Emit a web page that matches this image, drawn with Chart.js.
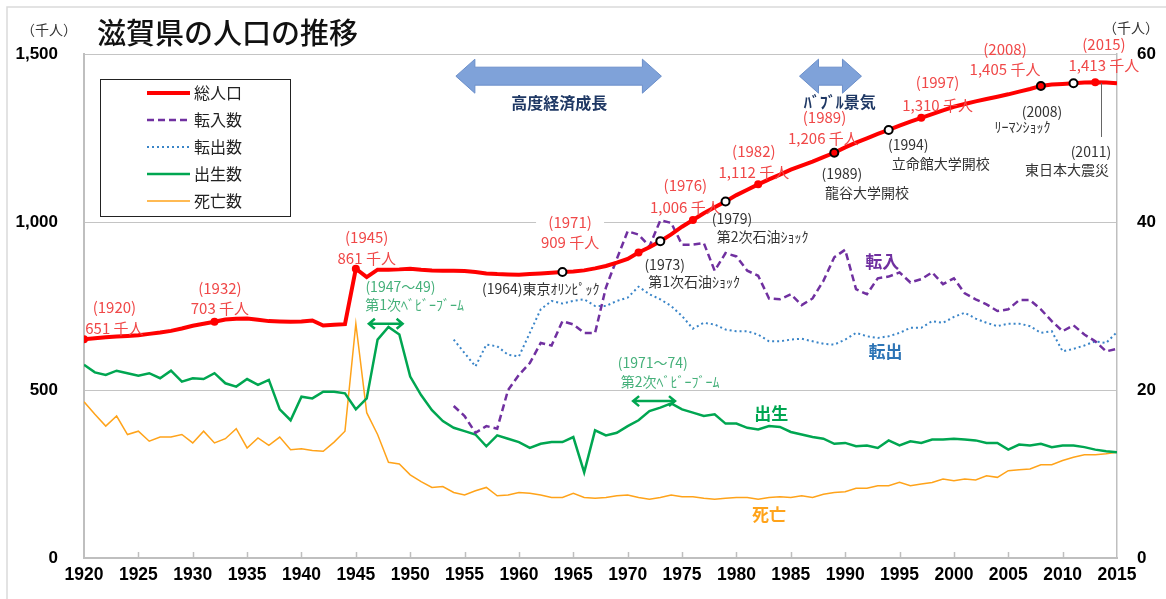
<!DOCTYPE html>
<html lang="ja">
<head>
<meta charset="utf-8">
<title>滋賀県の人口の推移</title>
<script src="https://cdn.jsdelivr.net/npm/chart.js@4.4.1/dist/chart.umd.min.js"></script>
<style>
  html, body { margin: 0; padding: 0; background: #fff; }
  #wrap { position: relative; width: 1166px; height: 599px; }
</style>
</head>
<body>
<div id="wrap"><canvas id="popChart" width="1166" height="599"></canvas></div>
<script>
// years on the x axis
const years = Array.from({ length: 96 }, (_, i) => 1920 + i);

// total population (thousand people, left axis)
const population = [
  651, 654, 657, 659, 661, 663, 667, 671, 676, 683,
  691, 697, 703, 710, 712, 713, 709, 705, 704, 703,
  704, 707, 692, 694, 696, 861, 836, 858, 858, 859,
  861, 858, 856, 855, 855, 854, 851, 847, 845, 844,
  843, 845, 847, 849, 851, 853, 856, 862, 869, 879,
  890, 909, 925, 943, 963, 986, 1006, 1026, 1044, 1061,
  1080, 1096, 1112, 1127, 1141, 1156, 1168, 1180, 1193, 1206,
  1222, 1236, 1249, 1262, 1274, 1287, 1299, 1310, 1321, 1332,
  1343, 1351, 1359, 1366, 1373, 1380, 1388, 1396, 1405, 1409,
  1411, 1413, 1415, 1416, 1415, 1413
];

// migration in / out (thousand people, right axis), recorded from 1954
const moveIn = [
  null, null, null, null, null, null, null, null, null, null,
  null, null, null, null, null, null, null, null, null, null,
  null, null, null, null, null, null, null, null, null, null,
  null, null, null, null, 18.1, 16.9, 14.9, 15.7, 15.4, 20.0,
  21.8, 23.2, 25.6, 25.3, 28.2, 27.8, 26.8, 26.8, 32.2, 35.6,
  38.9, 38.5, 37.1, 40.2, 39.9, 37.3, 37.3, 37.5, 34.2, 36.3,
  35.9, 34.2, 33.6, 30.9, 30.8, 31.4, 30.1, 30.9, 33.0, 35.8,
  36.7, 32.0, 31.4, 33.3, 33.5, 34.0, 32.8, 33.2, 34.0, 32.6,
  33.3, 31.5, 30.8, 30.2, 29.4, 29.6, 30.7, 30.7, 29.6, 28.2,
  27.0, 27.7, 26.6, 25.8, 24.6, 24.9
];
const moveOut = [
  null, null, null, null, null, null, null, null, null, null,
  null, null, null, null, null, null, null, null, null, null,
  null, null, null, null, null, null, null, null, null, null,
  null, null, null, null, 26.0, 24.4, 22.8, 25.4, 25.2, 24.2,
  24.0, 26.8, 29.6, 30.6, 30.3, 30.6, 30.8, 30.0, 30.0, 30.6,
  31.0, 32.3, 31.4, 30.8, 30.0, 28.8, 27.3, 28.0, 27.8, 27.2,
  27.0, 27.0, 26.6, 25.8, 25.8, 26.0, 26.1, 25.8, 25.5, 25.4,
  26.0, 26.8, 26.4, 26.2, 26.4, 26.8, 27.4, 27.4, 28.2, 28.0,
  28.7, 29.2, 28.5, 28.0, 27.6, 27.9, 27.9, 27.6, 26.8, 27.0,
  24.6, 24.9, 25.3, 25.8, 25.6, 26.9
];

// births / deaths (thousand people, right axis)
const births = [
  23.0, 22.1, 21.8, 22.3, 22.0, 21.7, 22.0, 21.4, 22.3, 21.0,
  21.4, 21.3, 22.0, 20.8, 20.4, 21.3, 20.6, 21.2, 17.7, 16.4,
  19.2, 19.0, 19.8, 19.8, 19.6, 17.7, 19.0, 26.0, 27.5, 26.6,
  21.6, 19.4, 17.6, 16.3, 15.5, 15.1, 14.7, 13.3, 14.6, 14.2,
  13.8, 13.1, 13.6, 13.8, 13.8, 14.4, 10.2, 15.2, 14.6, 14.9,
  15.7, 16.4, 17.5, 17.9, 18.4, 17.7, 17.3, 16.9, 17.1, 16.0,
  16.0, 15.5, 15.3, 15.7, 15.6, 15.0, 14.7, 14.4, 14.2, 13.6,
  13.7, 13.3, 13.4, 13.1, 14.0, 13.4, 13.9, 13.7, 14.1, 14.1,
  14.2, 14.1, 14.0, 13.7, 13.7, 12.9, 13.5, 13.4, 13.6, 13.2,
  13.4, 13.4, 13.2, 12.9, 12.7, 12.6
];
const deaths = [
  18.6, 17.1, 15.7, 16.9, 14.7, 15.1, 13.9, 14.4, 14.4, 14.7,
  13.7, 15.1, 13.7, 14.2, 15.4, 13.1, 14.3, 13.4, 14.4, 12.9,
  13.0, 12.8, 12.7, 13.8, 15.1, 27.9, 17.3, 14.7, 11.4, 11.2,
  9.9, 9.1, 8.4, 8.5, 7.8, 7.5, 8.0, 8.4, 7.4, 7.5,
  7.8, 7.7, 7.5, 7.2, 7.2, 7.7, 7.2, 7.1, 7.2, 7.4,
  7.5, 7.2, 7.0, 7.2, 7.5, 7.3, 7.3, 7.1, 7.0, 7.1,
  7.2, 7.2, 7.0, 7.2, 7.3, 7.2, 7.4, 7.2, 7.6, 7.8,
  7.9, 8.3, 8.3, 8.6, 8.6, 9.0, 8.6, 8.8, 9.0, 9.4,
  9.2, 9.4, 9.3, 9.8, 9.6, 10.4, 10.5, 10.6, 11.1, 11.1,
  11.6, 12.0, 12.3, 12.3, 12.4, 12.6
];

// marked points on the population line
const redDotYears = [1920, 1932, 1945, 1971, 1976, 1982, 1997, 2013];
const ringYears = [1964, 1973, 1979, 1994, 2011];
const ringRedYears = [1989, 2008];

// text notes: [year, value on left axis, text]
const redNotes = [
  [1922.8, 747, '(1920)'], [1922.8, 685, '651 千人'],
  [1932.5, 804, '(1932)'], [1932.5, 744, '703 千人'],
  [1946.0, 955, '(1945)'], [1946.0, 893, '861 千人'],
  [1964.7, 998, '(1971)'], [1964.7, 940, '909 千人'],
  [1975.3, 1110, '(1976)'], [1975.3, 1045, '1,006 千人'],
  [1981.6, 1209, '(1982)'], [1981.6, 1148, '1,112 千人'],
  [1988.1, 1312, '(1989)'], [1988.0, 1250, '1,206 千人'],
  [1998.5, 1415, '(1997)'], [1998.5, 1348, '1,310 千人'],
  [2004.7, 1514, '(2008)'], [2004.7, 1454, '1,405 千人'],
  [2013.8, 1529, '(2015)'], [2013.8, 1465, '1,413 千人']
];
const eventNotes = [
  [1962.0, 803, '(1964)東京ｵﾘﾝﾋﾟｯｸ'],
  [1973.4, 872, '(1973)'], [1976.1, 822, '第1次石油ｼｮｯｸ'],
  [1979.6, 1009, '(1979)'], [1982.4, 956, '第2次石油ｼｮｯｸ'],
  [1989.7, 1143, '(1989)'], [1992.0, 1087, '龍谷大学開校'],
  [1995.8, 1231, '(1994)'], [1998.8, 1175, '立命館大学開校'],
  [2008.1, 1327, '(2008)'], [2006.3, 1283, 'ﾘｰﾏﾝｼｮｯｸ'],
  [2012.6, 1208, '(2011)'], [2010.4, 1155, '東日本大震災']
];
const boomNotes = [
  [1949.1, 806, '(1947～49)'], [1950.4, 753, '第1次ﾍﾞﾋﾞｰﾌﾞｰﾑ'],
  [1972.3, 581, '(1971～74)'], [1973.9, 525, '第2次ﾍﾞﾋﾞｰﾌﾞｰﾑ']
];
const boomArrows = [[1946.2, 1949.3, 697], [1970.5, 1974.35, 467]];
const eraArrows = [[1954.2, 1973.1, 1434, '高度経済成長', 1963.7, 1355], [1985.8, 1991.5, 1434, 'ﾊﾞﾌﾞﾙ景気', 1989.5, 1358]];
const seriesNotes = [
  [1993.4, 882, '転入', '#7030a0'],
  [1993.7, 614, '転出', '#2e75b6'],
  [1983.2, 431, '出生', '#00a651'],
  [1983.0, 128, '死亡', '#ffa31a']
];

const JP = '"Noto Sans CJK JP", "Noto Sans", sans-serif';
const NUM = '"Liberation Sans", Arial, sans-serif';

function pts(vals) {
  return years.map((yr, i) => ({ x: yr, y: vals[i] }));
}

function blockArrow(c, x1, x2, yc) {
  const hl = 19, hh = 17, bh = 9;
  c.beginPath();
  c.moveTo(x1, yc);
  c.lineTo(x1 + hl, yc - hh);
  c.lineTo(x1 + hl, yc - bh);
  c.lineTo(x2 - hl, yc - bh);
  c.lineTo(x2 - hl, yc - hh);
  c.lineTo(x2, yc);
  c.lineTo(x2 - hl, yc + hh);
  c.lineTo(x2 - hl, yc + bh);
  c.lineTo(x1 + hl, yc + bh);
  c.lineTo(x1 + hl, yc + hh);
  c.closePath();
  c.fillStyle = '#7fa2d9';
  c.fill();
  c.strokeStyle = '#6b8fca';
  c.lineWidth = 1;
  c.stroke();
}

function doubleArrow(c, x1, x2, y) {
  c.strokeStyle = '#00a651';
  c.lineWidth = 2.5;
  c.beginPath();
  c.moveTo(x1, y); c.lineTo(x2, y);
  c.moveTo(x1 + 6, y - 5); c.lineTo(x1, y); c.lineTo(x1 + 6, y + 5);
  c.moveTo(x2 - 6, y - 5); c.lineTo(x2, y); c.lineTo(x2 - 6, y + 5);
  c.stroke();
}

const notesPlugin = {
  id: 'notes',
  beforeDraw(chart) {
    const c = chart.ctx;
    c.save();
    c.fillStyle = '#fff';
    c.fillRect(0, 0, chart.width, chart.height);
    c.strokeStyle = '#dadada';
    c.lineWidth = 1.5;
    c.beginPath();
    c.moveTo(7, chart.height); c.lineTo(7, 7); c.lineTo(chart.width, 7);
    c.stroke();
    c.fillStyle = '#111';
    c.textBaseline = 'middle';
    c.textAlign = 'left';
    c.font = '500 29px ' + JP;
    c.fillText('滋賀県の人口の推移', 97, 33);
    c.font = '14px ' + JP;
    c.fillStyle = '#333';
    c.fillText('（千人）', 21, 30);
    c.fillText('（千人）', 1103, 28);
    c.restore();
  },
  beforeDatasetsDraw(chart) {
    const c = chart.ctx, xs = chart.scales.x, ys = chart.scales.y;
    const area = chart.chartArea;
    c.save();
    // gap in the 1,000 grid line behind "(1971)"
    c.fillStyle = '#fff';
    c.fillRect(xs.getPixelForValue(1964.7) - 34, ys.getPixelForValue(998) - 8, 68, 16);
    // x tick marks inside the plot
    c.strokeStyle = '#bfbfbf';
    c.lineWidth = 1.5;
    c.beginPath();
    for (let yr = 1925; yr < 2015; yr += 5) {
      const px = Math.round(xs.getPixelForValue(yr)) + 0.5;
      c.moveTo(px, area.bottom);
      c.lineTo(px, area.bottom - 6);
    }
    c.stroke();
    c.restore();
  },
  afterDatasetsDraw(chart) {
    const c = chart.ctx, xs = chart.scales.x, ys = chart.scales.y;
    const X = v => xs.getPixelForValue(v), Y = v => ys.getPixelForValue(v);
    c.save();
    c.textAlign = 'center';
    c.textBaseline = 'middle';

    // era arrows
    eraArrows.forEach(([a, b, v, label, lx, ly]) => {
      blockArrow(c, X(a), X(b), Y(v));
      c.fillStyle = '#1f3864';
      c.font = 'bold 16px ' + JP;
      c.fillText(label, X(lx), Y(ly));
    });

    // population milestones
    c.fillStyle = '#f04848';
    c.font = '15px ' + JP;
    redNotes.forEach(([x, v, t]) => c.fillText(t, X(x), Y(v)));

    // events
    c.fillStyle = '#333';
    c.font = '14px ' + JP;
    eventNotes.forEach(([x, v, t]) => c.fillText(t, X(x), Y(v)));

    // line from the 2011 note to the curve
    c.strokeStyle = '#666';
    c.lineWidth = 1;
    c.beginPath();
    c.moveTo(Math.round(X(2013.5)) + 0.5, Y(1414));
    c.lineTo(Math.round(X(2013.5)) + 0.5, Y(1253));
    c.stroke();

    // baby booms
    c.fillStyle = '#45b07a';
    c.font = '14px ' + JP;
    boomNotes.forEach(([x, v, t]) => c.fillText(t, X(x), Y(v)));
    boomArrows.forEach(([a, b, v]) => doubleArrow(c, X(a), X(b), Y(v)));

    // series names
    c.font = 'bold 17px ' + JP;
    seriesNotes.forEach(([x, v, t, col]) => {
      c.fillStyle = col;
      c.fillText(t, X(x), Y(v));
    });

    // legend box
    c.fillStyle = '#fff';
    c.fillRect(100, 79, 190, 137);
    c.strokeStyle = '#222';
    c.lineWidth = 1;
    c.strokeRect(100.5, 79.5, 190, 137);
    c.textAlign = 'left';
    c.font = '16px ' + JP;
    chart.data.datasets.forEach((d, i) => {
      const ry = 93 + i * 27;
      c.strokeStyle = d.borderColor;
      c.lineWidth = d.borderWidth;
      c.setLineDash(d.borderDash || []);
      c.beginPath();
      c.moveTo(147, ry); c.lineTo(190, ry);
      c.stroke();
      c.setLineDash([]);
      c.fillStyle = '#222';
      c.fillText(d.label, 194, ry);
    });
    c.restore();
  }
};

function markOf(yr) {
  if (redDotYears.includes(yr)) return 'red';
  if (ringYears.includes(yr)) return 'ring';
  if (ringRedYears.includes(yr)) return 'ringRed';
  return null;
}

const ctx = document.getElementById('popChart').getContext('2d');
const popChart = new Chart(ctx, {
  type: 'line',
  data: {
    datasets: [
      {
        label: '総人口',
        data: pts(population),
        yAxisID: 'y',
        borderColor: '#ff0000',
        borderWidth: 4,
        order: 0,
        pointRadius: c => markOf(years[c.dataIndex]) ? 4 : 0,
        pointBackgroundColor: c => markOf(years[c.dataIndex]) === 'ring' ? '#fff' : '#ff0000',
        pointBorderColor: c => markOf(years[c.dataIndex]) === 'red' ? '#ff0000' : '#000',
        pointBorderWidth: c => markOf(years[c.dataIndex]) === 'red' ? 0 : 2
      },
      {
        label: '転入数',
        data: pts(moveIn),
        yAxisID: 'y1',
        borderColor: '#7030a0',
        borderWidth: 2.5,
        borderDash: [7, 4],
        pointRadius: 0,
        order: 1
      },
      {
        label: '転出数',
        data: pts(moveOut),
        yAxisID: 'y1',
        borderColor: '#3a85c8',
        borderWidth: 2,
        borderDash: [2, 3],
        pointRadius: 0,
        order: 2
      },
      {
        label: '出生数',
        data: pts(births),
        yAxisID: 'y1',
        borderColor: '#00a651',
        borderWidth: 2.5,
        pointRadius: 0,
        order: 3
      },
      {
        label: '死亡数',
        data: pts(deaths),
        yAxisID: 'y1',
        borderColor: '#ffa31a',
        borderWidth: 1.5,
        pointRadius: 0,
        order: 4
      }
    ]
  },
  options: {
    responsive: false,
    animation: false,
    layout: { padding: { top: 54, left: 0, right: 0, bottom: 0 } },
    plugins: {
      legend: { display: false },
      tooltip: { enabled: false }
    },
    scales: {
      x: {
        type: 'linear',
        min: 1920,
        max: 2015,
        ticks: {
          stepSize: 5,
          autoSkip: false,
          maxRotation: 0,
          padding: 7,
          color: '#000',
          font: { family: NUM, size: 17.5, weight: 'bold' },
          callback: v => String(v)
        },
        grid: { display: false, drawTicks: false },
        border: { display: true, color: '#bfbfbf', width: 2 },
        afterFit: s => { s.height = 41; }
      },
      y: {
        position: 'left',
        min: 0,
        max: 1500,
        ticks: {
          stepSize: 500,
          padding: 26,
          color: '#000',
          font: { family: NUM, size: 17, weight: 'bold' },
          callback: v => v.toLocaleString('en-US')
        },
        grid: { color: '#c4c4c4', lineWidth: 1, drawTicks: false },
        border: { display: true, color: '#bfbfbf', width: 2 },
        afterFit: s => { s.width = 84; }
      },
      y1: {
        position: 'right',
        min: 0,
        max: 60,
        ticks: {
          stepSize: 20,
          padding: 20,
          color: '#000',
          font: { family: NUM, size: 17, weight: 'bold' }
        },
        grid: { display: false, drawTicks: false },
        border: { display: true, color: '#bfbfbf', width: 1.5 },
        afterFit: s => { s.width = 49; }
      }
    }
  },
  plugins: [notesPlugin]
});
</script>
</body>
</html>
